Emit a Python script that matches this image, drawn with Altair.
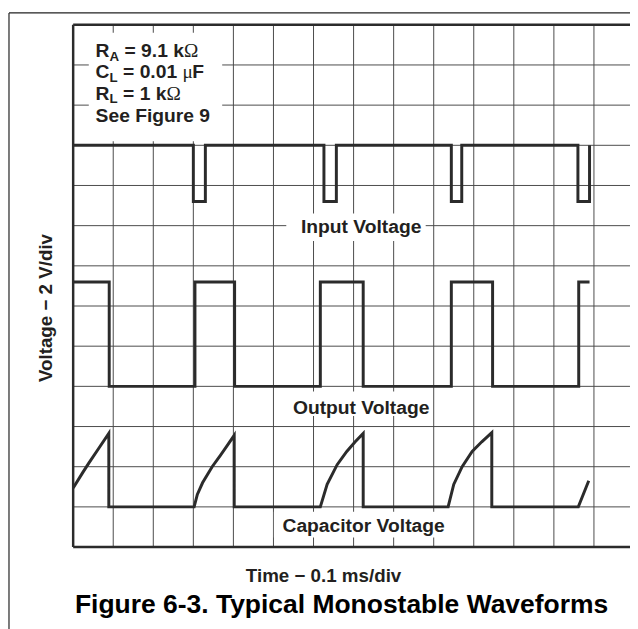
import altair as alt
import pandas as pd

# ---------------- data (in scope divisions) ----------------
input_x = [0, 3.0, 3.0, 3.3, 3.3, 6.26, 6.26, 6.57, 6.57, 9.44, 9.44, 9.70, 9.70, 12.6, 12.6, 12.89, 12.89]
input_y = [10, 10, 8.6, 8.6, 10, 10, 8.6, 8.6, 10, 10, 8.6, 8.6, 10, 10, 8.6, 8.6, 10]

output_x = [0, 0.9, 0.9, 3.04, 3.04, 4.03, 4.03, 6.17, 6.17, 7.24, 7.24, 9.44, 9.44, 10.47, 10.47, 12.62, 12.62, 12.89]
output_y = [6.6, 6.6, 4.0, 4.0, 6.6, 6.6, 4.0, 4.0, 6.6, 6.6, 4.0, 4.0, 6.6, 6.6, 4.0, 4.0, 6.6, 6.6]

cap_x = [0, 0.23, 0.39, 0.64, 0.89, 0.89, 3.02, 3.10, 3.23, 3.47, 3.68, 3.84, 4.02, 4.02,
         6.17, 6.34, 6.59, 6.83, 7.04, 7.24, 7.24,
         9.36, 9.50, 9.71, 9.96, 10.2, 10.45, 10.45, 12.61, 12.87]
cap_y = [1.47, 1.84, 2.09, 2.46, 2.83, 1.0, 1.0, 1.31, 1.60, 2.0, 2.29, 2.52, 2.78, 1.0,
         1.0, 1.56, 2.05, 2.38, 2.62, 2.83, 1.0,
         1.0, 1.56, 2.0, 2.38, 2.62, 2.85, 1.0, 1.0, 1.65]

series_names = ["Input Voltage", "Output Voltage", "Capacitor Voltage"]
x_ticks = list(range(1, 14))
y_ticks = list(range(1, 13))

# ---------------- layout ----------------
W, H = 564, 529
XMAX, YMAX = 13.9, 13
FONT = "Liberation Sans"
SERIF = "Liberation Serif"
INK = "#231f20"
GRID = "#4a4a4a"

xs = alt.Scale(domain=[0, XMAX], nice=False, zero=False)
ys = alt.Scale(domain=[0, YMAX], nice=False, zero=False)


def X(field="x"):
    return alt.X(f"{field}:Q", scale=xs, axis=None)


def Y(field="y"):
    return alt.Y(f"{field}:Q", scale=ys, axis=None)


rows = []
for name, xv, yv in zip(series_names, [input_x, output_x, cap_x], [input_y, output_y, cap_y]):
    for i, (a, b) in enumerate(zip(xv, yv)):
        rows.append({"series": name, "i": i, "x": a, "y": b})
waves_df = pd.DataFrame(rows)

# grid
vgrid = alt.Chart(pd.DataFrame({"x": x_ticks})).mark_rule(color=GRID, strokeWidth=1).encode(
    x=X(), y=alt.value(0), y2=alt.value(H))
hgrid = alt.Chart(pd.DataFrame({"y": y_ticks})).mark_rule(color=GRID, strokeWidth=1).encode(
    y=Y(), x=alt.value(0), x2=alt.value(W))

# white boxes behind labels (in divisions)
boxes = pd.DataFrame({
    "x": [0.39, 5.32, 5.32, 5.01],
    "x2": [3.72, 8.80, 8.98, 9.3],
    "y": [12.8, 8.3, 3.87, 0.88],
    "y2": [10.1, 7.62, 3.26, 0.24],
})
white = alt.Chart(boxes).mark_rect(color="white").encode(x=X("x"), x2="x2:Q", y=Y("y"), y2="y2:Q")

waves = alt.Chart(waves_df).mark_line(color="#2b2b2b", strokeWidth=3, strokeJoin="miter",
                                      strokeCap="butt").encode(
    x=X(), y=Y(), detail="series:N", order="i:Q")

# plot border (left, top, bottom)
border_left = alt.Chart(pd.DataFrame({"x": [0]})).mark_rule(color="#2b2b2b", strokeWidth=2.5).encode(
    x=X(), y=alt.value(0), y2=alt.value(H))
border_tb = alt.Chart(pd.DataFrame({"y": [0, YMAX]})).mark_rule(color="#2b2b2b", strokeWidth=2.5).encode(
    y=Y(), x=alt.value(0), x2=alt.value(W))

# outer frame
frame_top = alt.Chart(pd.DataFrame({"k": [0]})).mark_rule(color="#222", strokeWidth=1.2).encode(
    x=alt.value(-65), x2=alt.value(W + 10), y=alt.value(-12))
frame_left = alt.Chart(pd.DataFrame({"k": [0]})).mark_rule(color="#222", strokeWidth=1.2).encode(
    x=alt.value(-65), y=alt.value(-12), y2=alt.value(H + 100))


def label(text, x, y, size, align="left", dx=0, dy=0, angle=0, color=INK, weight="bold", font=FONT):
    return alt.Chart(pd.DataFrame({"t": [text], "x": [x], "y": [y]})).mark_text(
        font=font, fontWeight=weight, fontSize=size, align=align, baseline="alphabetic",
        dx=dx, dy=dy, angle=angle, color=color).encode(x=X(), y=Y(), text="t:N")


BX = 0.56
FS = 19.5
SUB = 13.5
texts = [
    label("R", BX, 12.20, FS),
    label("A", BX, 12.20, SUB, dx=14.1, dy=4),
    label("= 9.1 k", BX, 12.20, FS, dx=29.3),
    label("\u03a9", BX, 12.20, FS, dx=89.6, weight="normal", font=SERIF),
    label("C", BX, 11.67, FS),
    label("L", BX, 11.67, SUB, dx=14.1, dy=4),
    label("= 0.01", BX, 11.67, FS, dx=27.8),
    label("\u03bc", BX, 11.67, FS, dx=88.0, weight="normal", font=SERIF),
    label("F", BX, 11.67, FS, dx=97.8),
    label("R", BX, 11.14, FS),
    label("L", BX, 11.14, SUB, dx=14.1, dy=4),
    label("= 1 k", BX, 11.14, FS, dx=27.8),
    label("\u03a9", BX, 11.14, FS, dx=71.9, weight="normal", font=SERIF),
    label("See Figure 9", BX, 10.57, FS),
    label("Input Voltage", 7.19, 7.82, FS, align="center"),
    label("Output Voltage", 7.19, 3.32, FS, align="center"),
    label("Capacitor Voltage", 7.25, 0.37, FS, align="center"),
    label("Time \u2212 0.1 ms/div", 6.25, -0.86, 19, align="center"),
    label("Figure 6-3. Typical Monostable Waveforms", 6.70, -1.64, 26.8, align="center", color="#000"),
    label("Voltage \u2212 2 V/div", -0.52, 5.95, 19, align="center", angle=270),
]

chart = alt.layer(
    vgrid, hgrid, white, waves, border_left, border_tb, frame_top, frame_left, *texts
).properties(
    width=W, height=H,
    padding={"left": 66, "top": 13, "right": 0, "bottom": 79},
    autosize=alt.AutoSizeParams(type="none"),
    background="white",
).configure_view(strokeWidth=0)

chart.save("out.html", embed_options={"renderer": "svg", "actions": False})
